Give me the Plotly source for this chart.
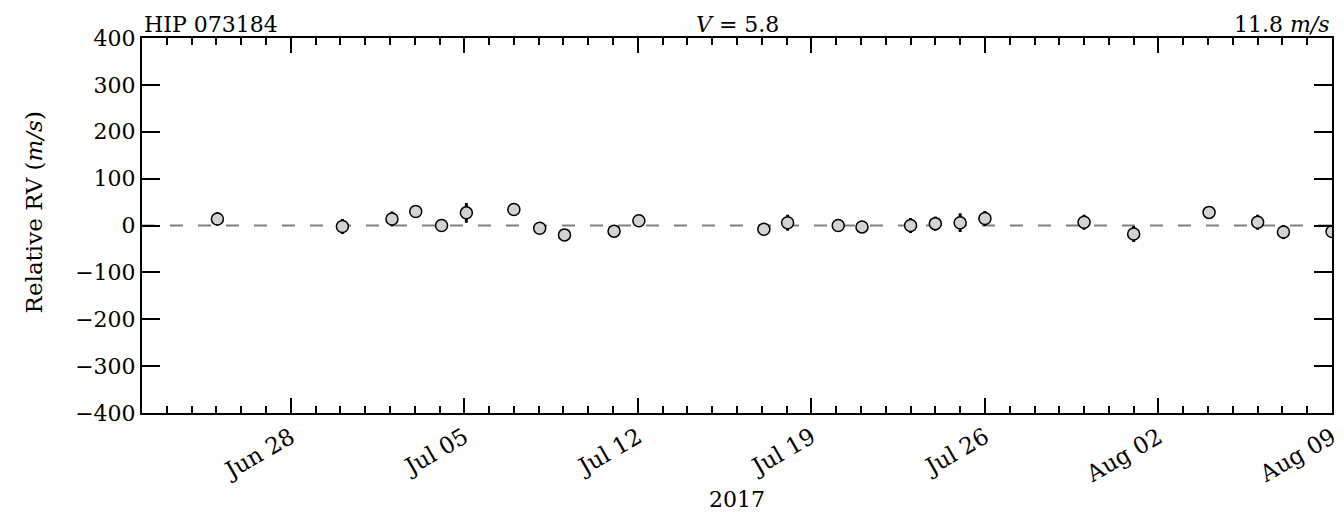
import plotly.graph_objects as go

dates = ["2017-06-25 01:00", "2017-06-30 02:00", "2017-07-02 02:00", "2017-07-03 01:00",
         "2017-07-04 02:00", "2017-07-05 02:00", "2017-07-07 00:00", "2017-07-08 01:00",
         "2017-07-09 01:00", "2017-07-11 01:00", "2017-07-12 01:00", "2017-07-17 02:00",
         "2017-07-18 01:00", "2017-07-20 02:00", "2017-07-21 01:00", "2017-07-23 00:00",
         "2017-07-24 00:00", "2017-07-25 00:00", "2017-07-26 00:00", "2017-07-30 00:00",
         "2017-08-01 00:00", "2017-08-04 01:00", "2017-08-06 00:00", "2017-08-07 01:00",
         "2017-08-09 00:00"]
rv = [14, -2, 14, 30, 0, 27, 34, -6, -20, -12, 10, -8, 6, 0, -3, 0, 4, 6, 15, 7,
      -18, 28, 7, -14, -13]
rv_err = [14, 16, 16, 6, 6, 21, 13, 6, 6, 6, 6, 6, 17, 13, 6, 16, 15, 20, 16, 16,
          17, 8, 16, 15, 10]

y_ticks = [-400, -300, -200, -100, 0, 100, 200, 300, 400]
y_labels = ["\u2212400", "\u2212300", "\u2212200", "\u2212100", "0", "100", "200", "300", "400"]
x_range = ["2017-06-22", "2017-08-09"]
star = "HIP 073184"
vmag = "<i>V</i> = 5.8"
rms = "11.8 <i>m/s</i>"
x_title = "2017"
y_title = "Relative RV (<i>m/s</i>)"

FONT = "DejaVu Serif"
FS = 22

fig = go.Figure()
fig.add_trace(go.Scatter(
    x=x_range, y=[0, 0], mode="lines",
    line=dict(color="#808080", width=2, dash="13px,15px"),
    hoverinfo="skip", showlegend=False))
fig.add_trace(go.Scatter(
    x=dates, y=rv, mode="markers",
    error_y=dict(type="data", array=rv_err, color="black", thickness=3, width=0),
    marker=dict(size=12, color="#d3d3d3", line=dict(color="black", width=1.5)),
    showlegend=False))

# the page body has an 8px margin, so the figure is sized to fill the rest of the window
fig.update_layout(
    width=1336, height=504,
    margin=dict(l=134, r=12, t=30, b=99),
    plot_bgcolor="white", paper_bgcolor="white",
    font=dict(family=FONT, size=FS, color="black"),
)
fig.update_xaxes(
    range=x_range, type="date", automargin=False,
    tick0="2017-06-28", dtick=7 * 86400000, tickformat="%b %d",
    ticks="inside", ticklen=15, tickwidth=2, tickcolor="black",
    tickangle=-30, tickfont=dict(size=23),
    minor=dict(dtick=86400000, ticks="inside", ticklen=7, tickwidth=2, tickcolor="black"),
    showline=True, linecolor="black", linewidth=2, mirror="ticks",
    showgrid=False, zeroline=False,
)
fig.update_yaxes(
    range=[-400, 400], tickvals=y_ticks, ticktext=y_labels, automargin=False,
    ticks="inside", ticklen=18, tickwidth=2, tickcolor="black",
    tickfont=dict(size=FS),
    showline=True, linecolor="black", linewidth=2, mirror="ticks",
    showgrid=False, zeroline=False,
)

fig.add_annotation(text=star, xref="paper", yref="paper", x=0, y=1, xanchor="left",
                   yanchor="bottom", showarrow=False, font=dict(size=FS), yshift=-1)
fig.add_annotation(text=vmag, xref="paper", yref="paper", x=0.5, y=1, xanchor="center",
                   yanchor="bottom", showarrow=False, font=dict(size=FS), yshift=-1)
fig.add_annotation(text=rms, xref="paper", yref="paper", x=1, y=1, xanchor="right",
                   yanchor="bottom", showarrow=False, font=dict(size=FS), yshift=-1)
fig.add_annotation(text=x_title, xref="paper", yref="paper", x=0.5, y=0, xanchor="center",
                   yanchor="middle", showarrow=False, font=dict(size=FS), yshift=-86)
fig.add_annotation(text=y_title, xref="paper", yref="paper", x=0, y=0.535, xanchor="center",
                   yanchor="middle", showarrow=False, font=dict(size=23), textangle=-90,
                   xshift=-108)

fig.write_html("out.html")
